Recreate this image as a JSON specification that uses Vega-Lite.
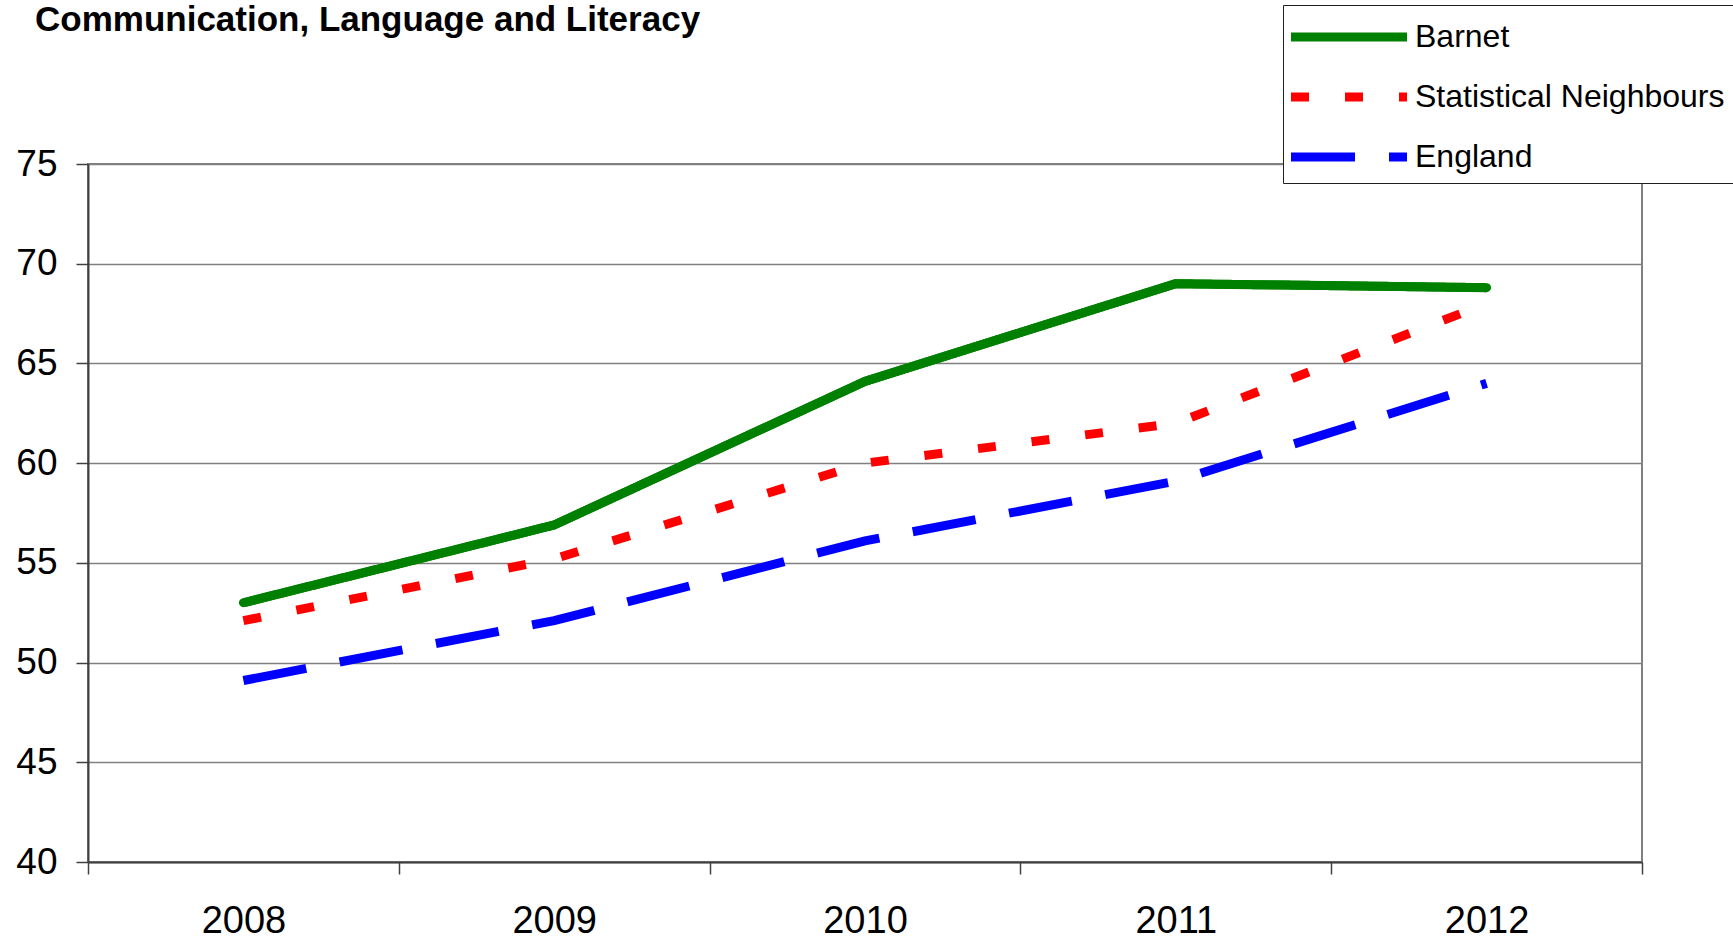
{
  "$schema": "https://vega.github.io/schema/vega-lite/v6.json",
  "width": 1554,
  "height": 698,
  "autosize": {"type": "none"},
  "padding": {"left": 88, "top": 164, "right": 91, "bottom": 77},
  "title": {
    "text": "Communication, Language and Literacy",
    "anchor": "start",
    "frame": "group",
    "font": "Liberation Sans",
    "fontSize": 35,
    "fontWeight": "bold",
    "color": "black",
    "dx": -53,
    "dy": 33,
    "offset": 0
  },
  "data": {
    "values": [
      {"year": "2008", "series": "Barnet", "value": 53.0},
      {"year": "2009", "series": "Barnet", "value": 56.9},
      {"year": "2010", "series": "Barnet", "value": 64.1},
      {"year": "2011", "series": "Barnet", "value": 69.0},
      {"year": "2012", "series": "Barnet", "value": 68.8},
      {"year": "2008", "series": "Statistical Neighbours", "value": 52.1},
      {"year": "2009", "series": "Statistical Neighbours", "value": 55.2},
      {"year": "2010", "series": "Statistical Neighbours", "value": 60.0},
      {"year": "2011", "series": "Statistical Neighbours", "value": 62.0},
      {"year": "2012", "series": "Statistical Neighbours", "value": 68.0},
      {"year": "2008", "series": "England", "value": 49.1},
      {"year": "2009", "series": "England", "value": 52.1},
      {"year": "2010", "series": "England", "value": 56.1},
      {"year": "2011", "series": "England", "value": 59.1},
      {"year": "2012", "series": "England", "value": 64.0}
    ]
  },
  "encoding": {
    "x": {
      "field": "year",
      "type": "ordinal",
      "scale": {"type": "band", "paddingInner": 0, "paddingOuter": 0},
      "axis": {
        "title": null,
        "labelAngle": 0,
        "tickBand": "extent",
        "grid": false,
        "labelFont": "Liberation Sans",
        "labelFontSize": 38,
        "labelColor": "black",
        "labelPadding": 28,
        "tickSize": 12,
        "tickColor": "#404040",
        "tickWidth": 1.5,
        "domainColor": "#404040",
        "domainWidth": 2
      }
    },
    "y": {
      "field": "value",
      "type": "quantitative",
      "scale": {"domain": [40, 75], "nice": false, "zero": false},
      "axis": {
        "title": null,
        "values": [40, 45, 50, 55, 60, 65, 70, 75],
        "grid": true,
        "gridColor": "#808080",
        "gridWidth": 1.5,
        "labelFont": "Liberation Sans",
        "labelFontSize": 37,
        "labelColor": "black",
        "labelPadding": 19,
        "tickSize": 12,
        "tickColor": "#404040",
        "tickWidth": 1.5,
        "domainColor": "#404040",
        "domainWidth": 2
      }
    }
  },
  "layer": [
    {
      "mark": {"type": "line", "strokeWidth": 9, "strokeCap": "butt"},
      "encoding": {
        "color": {
          "field": "series",
          "type": "nominal",
          "sort": null,
          "scale": {"domain": ["Barnet", "Statistical Neighbours", "England"], "range": ["#008000", "#FF0000", "#0000FF"]},
          "legend": {"title": null}
        },
        "strokeDash": {
          "field": "series",
          "type": "nominal",
          "sort": null,
          "scale": {"domain": ["Barnet", "Statistical Neighbours", "England"], "range": [[1, 0], [18, 36], [64, 34]]},
          "legend": {"title": null}
        }
      }
    },
    {
      "transform": [{"filter": "datum.series === 'Barnet'"}],
      "mark": {"type": "line", "strokeWidth": 9, "strokeCap": "round", "strokeJoin": "round", "color": "#008000"},
      "encoding": {}
    }
  ],
  "config": {
    "view": {"stroke": "#808080", "strokeWidth": 2},
    "legend": {
      "orient": "none",
      "legendX": 1195,
      "legendY": -159,
      "strokeColor": "#202020",
      "fillColor": "white",
      "padding": 8,
      "labelFont": "Liberation Sans",
      "labelFontSize": 32,
      "labelColor": "black",
      "labelOffset": 42,
      "symbolOffset": 34,
      "symbolType": "M-3,0H3",
      "symbolSize": 1495,
      "symbolStrokeWidth": 9,
      "rowPadding": 18,
      "labelLimit": 600
    }
  }
}
